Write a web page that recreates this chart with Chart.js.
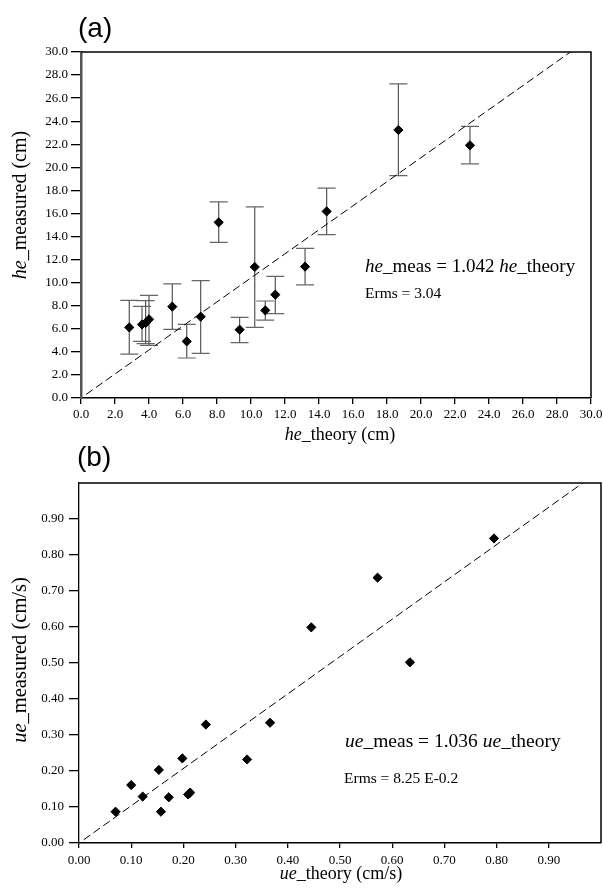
<!DOCTYPE html>
<html>
<head>
<meta charset="utf-8">
<script src="https://cdn.jsdelivr.net/npm/chart.js@4.4.1/dist/chart.umd.min.js"></script>
<style>
  html, body { margin: 0; padding: 0; background: #fff; }
  body { width: 603px; height: 890px; position: relative; overflow: hidden; }
  canvas { position: absolute; left: 0; }
  .lbl { position: absolute; white-space: nowrap; color: #000; }
  .panel { font-family: "Liberation Sans", Arial, sans-serif; font-size: 28px; line-height: 28px; }
  .serif { font-family: "Liberation Serif", "Times New Roman", serif; }
  .rot { transform: translate(-50%, -50%) rotate(-90deg); }
  .ctr { transform: translate(-50%, -50%); }
  i { font-style: italic; }
</style>
</head>
<body>
<canvas id="ca" width="603" height="450" style="top:0"></canvas>
<canvas id="cb" width="607" height="450" style="top:440px"></canvas>

<div class="lbl panel" style="left:78px; top:14px;">(a)</div>
<div class="lbl panel" style="left:77px; top:443px;">(b)</div>

<div class="lbl serif rot" style="left:19px; top:205px; font-size:20px;"><i>he</i>_measured (cm)</div>
<div class="lbl serif ctr" style="left:340px; top:434px; font-size:18px;"><i>he</i>_theory (cm)</div>
<div class="lbl serif" style="left:365px; top:255px; font-size:19px;"><i>he</i>_meas = 1.042 <i>he</i>_theory</div>
<div class="lbl serif" style="left:365px; top:284px; font-size:15.5px;">Erms = 3.04</div>

<div class="lbl serif rot" style="left:19px; top:660px; font-size:20.5px;"><i>ue</i>_measured (cm/s)</div>
<div class="lbl serif ctr" style="left:341px; top:873px; font-size:18px;"><i>ue</i>_theory (cm/s)</div>
<div class="lbl serif" style="left:345px; top:730px; font-size:19.5px;"><i>ue</i>_meas = 1.036 <i>ue</i>_theory</div>
<div class="lbl serif" style="left:344px; top:769px; font-size:15.5px;">Erms = 8.25 E-0.2</div>

<script>
// ---------- Panel (a) data ----------
const heTheory   = [2.84, 3.59, 3.80, 4.00, 5.37, 6.22, 7.04, 8.10, 9.33, 10.22, 10.84, 11.43, 13.18, 14.45, 18.67, 22.88];
const heMeasured = [6.12, 6.38, 6.50, 6.82, 7.92, 4.91, 7.05, 15.23, 5.92, 11.36, 7.60, 8.96, 11.39, 16.18, 23.24, 21.91];
const heErrLow   = [3.81, 4.91, 4.72, 4.56, 5.95, 3.47, 3.87, 13.50, 4.80, 6.12, 6.76, 7.31, 9.80, 14.16, 19.28, 20.30];
const heErrHigh  = [8.47, 7.94, 8.45, 8.90, 9.89, 6.38, 10.17, 17.00, 6.99, 16.57, 8.41, 10.55, 12.97, 18.20, 27.23, 23.55];
const heFitX = [0.3, 28.79];
const heFitY = [0.31, 30.0];
const heTicks = [0, 2, 4, 6, 8, 10, 12, 14, 16, 18, 20, 22, 24, 26, 28, 30];

// ---------- Panel (b) data ----------
const ueTheory   = [0.070, 0.100, 0.122, 0.153, 0.157, 0.172, 0.198, 0.209, 0.213, 0.243, 0.322, 0.366, 0.445, 0.572, 0.634, 0.795];
const ueMeasured = [0.087, 0.161, 0.129, 0.203, 0.087, 0.127, 0.235, 0.135, 0.140, 0.329, 0.232, 0.334, 0.599, 0.737, 0.502, 0.846];
const ueFitX = [0.009, 0.965];
const ueFitY = [0.009, 1.0];
const ueTicks = [0, 0.1, 0.2, 0.3, 0.4, 0.5, 0.6, 0.7, 0.8, 0.9, 1.0];

const tickFont = { family: "'Liberation Serif', 'Times New Roman', serif", size: 13 };

function pts(xs, ys) { return xs.map((x, i) => ({ x: x, y: ys[i] })); }

const framePlugin = {
  id: 'frame',
  afterDraw(chart, args, opts) {
    const a = chart.chartArea, ctx = chart.ctx;
    ctx.save();
    ctx.strokeStyle = opts.color || '#000';
    ctx.lineWidth = opts.width || 1.5;
    ctx.beginPath();
    ctx.moveTo(a.left, a.top);
    ctx.lineTo(a.right, a.top);
    ctx.lineTo(a.right, a.bottom);
    ctx.stroke();
    ctx.restore();
  }
};

const errPlugin = {
  id: 'errbars',
  beforeDatasetsDraw(chart, args, opts) {
    if (!opts.low) return;
    const xs = chart.scales.x, ys = chart.scales.y, ctx = chart.ctx;
    ctx.save();
    ctx.lineWidth = 1.2;
    for (let i = 0; i < opts.xv.length; i++) {
      const px = xs.getPixelForValue(opts.xv[i]);
      const pl = ys.getPixelForValue(opts.low[i]);
      const ph = ys.getPixelForValue(opts.high[i]);
      ctx.strokeStyle = '#555';
      ctx.beginPath();
      ctx.moveTo(px, pl); ctx.lineTo(px, ph);
      ctx.stroke();
      ctx.strokeStyle = '#666';
      ctx.beginPath();
      ctx.moveTo(px - 9, pl); ctx.lineTo(px + 9, pl);
      ctx.moveTo(px - 9, ph); ctx.lineTo(px + 9, ph);
      ctx.stroke();
    }
    ctx.restore();
  }
};

function makeAxis(cfg) {
  return {
    type: 'linear',
    min: cfg.min, max: cfg.max,
    afterBuildTicks: (s) => { s.ticks = cfg.ticks.map(v => ({ value: v })); },
    afterFit: (s) => {
      if (cfg.width !== undefined) s.width = cfg.width;
      if (cfg.height !== undefined) s.height = cfg.height;
      s.paddingLeft = 0; s.paddingRight = 0; s.paddingTop = 0; s.paddingBottom = 0;
    },
    border: { display: true, color: cfg.borderColor, width: cfg.borderWidth },
    grid: {
      display: true, drawOnChartArea: false, drawTicks: true,
      tickLength: cfg.tickLength,
      color: (c) => (cfg.hideLast && c.tick && c.tick.value >= cfg.max - 1e-9) ? 'rgba(0,0,0,0)' : '#000',
      lineWidth: 1.3
    },
    ticks: {
      font: tickFont, color: '#000', padding: cfg.padding,
      autoSkip: false, maxRotation: 0, minRotation: 0,
      callback: (v) => (cfg.hideLast && v >= cfg.max - 1e-9) ? '' : Number(v).toFixed(cfg.dec)
    }
  };
}

new Chart(document.getElementById('ca'), {
  type: 'scatter',
  data: {
    datasets: [
      {
        data: pts(heTheory, heMeasured),
        pointStyle: 'rectRot', pointRadius: 4.6, pointBackgroundColor: '#000',
        pointBorderColor: '#000', pointBorderWidth: 1, showLine: false
      },
      {
        data: pts(heFitX, heFitY), showLine: true, borderColor: '#000',
        borderWidth: 1, borderDash: [8, 4], pointRadius: 0, fill: false
      }
    ]
  },
  options: {
    responsive: false, animation: false, devicePixelRatio: 1,
    layout: { padding: { left: 0, top: 52, right: 12, bottom: 0 } },
    plugins: {
      legend: { display: false }, tooltip: { enabled: false },
      frame: { color: '#000', width: 1.5 },
      errbars: { xv: heTheory, low: heErrLow, high: heErrHigh }
    },
    scales: {
      x: makeAxis({ min: 0, max: 30, ticks: heTicks, height: 52, borderColor: '#000', borderWidth: 1.5, tickLength: 6, padding: 3, dec: 1 }),
      y: makeAxis({ min: 0, max: 30, ticks: heTicks, width: 81, borderColor: '#555', borderWidth: 2.5, tickLength: 10, padding: 3, dec: 1 })
    }
  },
  plugins: [framePlugin, errPlugin]
});

new Chart(document.getElementById('cb'), {
  type: 'scatter',
  data: {
    datasets: [
      {
        data: pts(ueTheory, ueMeasured),
        pointStyle: 'rectRot', pointRadius: 4.6, pointBackgroundColor: '#000',
        pointBorderColor: '#000', pointBorderWidth: 1, showLine: false
      },
      {
        data: pts(ueFitX, ueFitY), showLine: true, borderColor: '#000',
        borderWidth: 1, borderDash: [8, 4], pointRadius: 0, fill: false
      }
    ]
  },
  options: {
    responsive: false, animation: false, devicePixelRatio: 1,
    layout: { padding: { left: 0, top: 43, right: 6, bottom: 0 } },
    plugins: {
      legend: { display: false }, tooltip: { enabled: false },
      frame: { color: '#000', width: 1.5 },
      errbars: {}
    },
    scales: {
      x: makeAxis({ min: 0, max: 1.0, ticks: ueTicks, height: 47, borderColor: '#000', borderWidth: 1.5, tickLength: 5, padding: 5, dec: 2, hideLast: true }),
      y: makeAxis({ min: 0, max: 1.0, ticks: ueTicks, width: 79, borderColor: '#000', borderWidth: 1.3, tickLength: 10, padding: 5, dec: 2, hideLast: true })
    }
  },
  plugins: [framePlugin, errPlugin]
});
</script>
</body>
</html>
